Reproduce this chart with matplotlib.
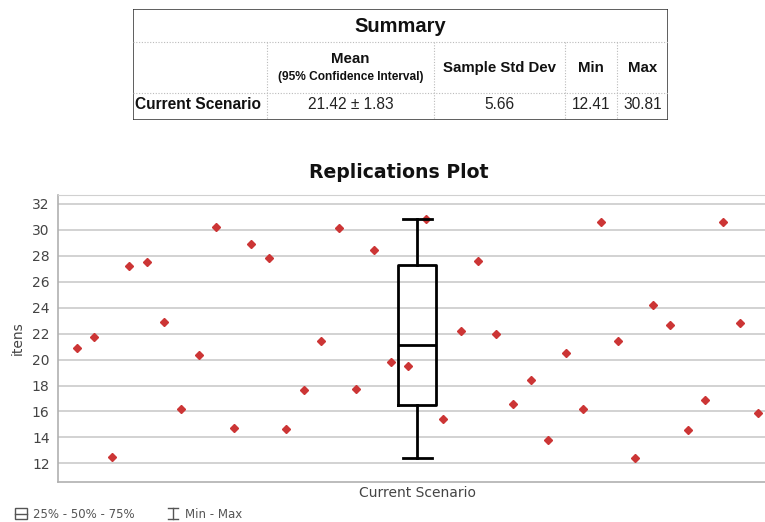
import numpy as np
import matplotlib.pyplot as plt
from matplotlib.lines import Line2D

# replication results (items)
replications = [
    20.87, 21.72, 12.47, 27.19, 27.55, 22.87, 16.16, 20.38, 30.25, 14.72,
    28.92, 27.86, 14.62, 17.63, 21.43, 30.15, 17.71, 28.43, 19.84, 19.53,
    30.81, 15.42, 22.23, 27.58, 21.95, 16.58, 18.40, 13.80, 20.51, 16.19,
    30.64, 21.46, 12.41, 24.24, 22.69, 14.57, 16.86, 30.64, 22.80, 15.91,
]
scenario = 'Current Scenario'
y_ticks = [12, 14, 16, 18, 20, 22, 24, 26, 28, 30, 32]

# summary table
table_title = 'Summary'
table_headers = ['Mean', 'Sample Std Dev', 'Min', 'Max']
table_subheader = '(95% Confidence Interval)'
table_values = ['21.42 \u00b1 1.83', '5.66', '12.41', '30.81']

W, H = 765, 522
fig = plt.figure(figsize=(W / 100, H / 100), dpi=100)

# ---- table, drawn in pixel coordinates ----
tl, tr, tt, tb = 133, 668, 9, 120
tax = fig.add_axes([tl / W, 1 - tb / H, (tr - tl) / W, (tb - tt) / H])
tax.set_xlim(tl, tr)
tax.set_ylim(tb, tt)
tax.axis('off')
col_edges = [133, 267, 434, 565, 617, 668]
row_edges = [9, 42, 93, 120]
tax.add_patch(plt.Rectangle((tl, tt), tr - tl, tb - tt, fill=False, ec='#333333', lw=1.1))
for y in row_edges[1:-1]:
    tax.plot([tl, tr], [y, y], ls=(0, (1, 1.5)), color='#bbbbbb', lw=0.8)
for x in col_edges[1:-1]:
    tax.plot([x, x], [row_edges[1], tb], ls=(0, (1, 1.5)), color='#bbbbbb', lw=0.8)
tfont = 'Liberation Sans'
tax.text((tl + tr) / 2, 26, table_title, ha='center', va='center', fontsize=14.5,
         fontweight='bold', family=tfont, color='#111111')
centers = [(col_edges[i + 1] + col_edges[i + 2]) / 2 for i in range(4)]
for i, (cx, head) in enumerate(zip(centers, table_headers)):
    if i == 0:
        tax.text(cx, 59, head, ha='center', va='center', fontsize=10.8,
                 fontweight='bold', family=tfont, color='#111111')
        tax.text(cx, 77, table_subheader, ha='center', va='center', fontsize=8.6,
                 fontweight='bold', family=tfont, color='#111111')
    else:
        tax.text(cx, 68, head, ha='center', va='center', fontsize=10.8,
                 fontweight='bold', family=tfont, color='#111111')
    tax.text(cx, 105, table_values[i], ha='center', va='center', fontsize=11.2,
             family=tfont, color='#222222')
tax.text(tl + 2, 105, scenario, ha='left', va='center', fontsize=11.2,
         fontweight='bold', family=tfont, color='#111111')

# ---- replications plot ----
ax = fig.add_axes([58 / W, 1 - 482 / H, 1 - 58 / W, (482 - 195) / H])
xs = np.arange(1, len(replications) + 1)
center = (xs[0] + xs[-1]) / 2

for y in y_ticks:
    ax.axhline(y, color='#cfcfcf', lw=1.3, zorder=0)

ax.plot(xs, replications, ls='none', marker='D', markersize=4,
        color='#cc3535', mec='#cc3535', zorder=2)

ax.boxplot(replications, positions=[center], widths=2.15, whis=(0, 100),
           capwidths=1.68, showfliers=False, manage_ticks=False,
           boxprops=dict(color='black', lw=2),
           whiskerprops=dict(color='black', lw=2),
           capprops=dict(color='black', lw=2),
           medianprops=dict(color='black', lw=2), zorder=3)

ax.set_xlim(-0.07, 40.42)
ax.set_ylim(10.56, 32.69)
ax.set_yticks(y_ticks)
ax.set_xticks([center])
ax.set_xticklabels([scenario])
ax.tick_params(axis='both', length=0, labelsize=10, colors='#444444')
ax.tick_params(axis='y', pad=6)
ax.tick_params(axis='x', pad=3)
ax.set_ylabel('itens', fontsize=10, color='#444444', labelpad=5)
for s in ['left', 'bottom']:
    ax.spines[s].set_color('#b0b0b0')
    ax.spines[s].set_linewidth(1.2)
ax.spines['top'].set_color('#d0d0d0')
ax.spines['right'].set_visible(False)

fig.text(399 / W, 1 - 173 / H, 'Replications Plot', ha='center', va='center',
         fontsize=13.6, fontweight='bold', color='#111111')

# ---- legend under the chart ----
lc = '#555555'
fig.patches.append(plt.Rectangle((15 / W, 1 - 519 / H), 12 / W, 11 / H, fill=False,
                                 ec=lc, lw=1, transform=fig.transFigure))
fig.lines.append(Line2D([15 / W, 27 / W], [1 - 513.5 / H] * 2, color=lc, lw=1,
                        transform=fig.transFigure))
fig.text(33 / W, 1 - 514 / H, '25% - 50% - 75%', ha='left', va='center',
         fontsize=8.5, color=lc)
for seg in ([[168, 178], [508, 508]], [[168, 178], [519, 519]], [[173, 173], [508, 519]]):
    fig.lines.append(Line2D([v / W for v in seg[0]], [1 - v / H for v in seg[1]],
                            color=lc, lw=1, transform=fig.transFigure))
fig.text(185 / W, 1 - 514 / H, 'Min - Max', ha='left', va='center',
         fontsize=8.5, color=lc)

fig.savefig('out.png', dpi=100)
